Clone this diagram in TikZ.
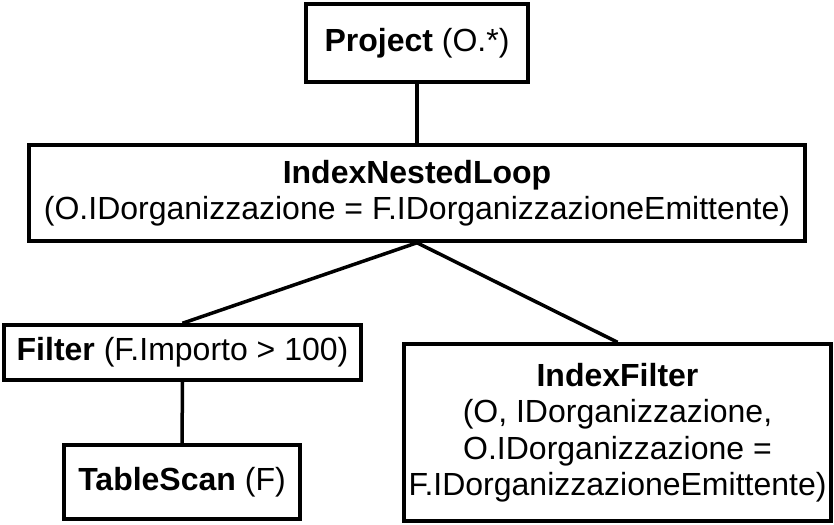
\documentclass[tikz,border=0pt]{standalone}
\usepackage{fontspec}
\setmainfont{Liberation Sans}
\usetikzlibrary{positioning}

\begin{document}
\begin{tikzpicture}[x=1pt, y=-1pt,
    op/.style={draw, line width=3.5pt, align=center, inner sep=0pt,
        font=\fontsize{32}{36.5}\selectfont},
    edge/.style={line width=3.5pt}]
    \useasboundingbox (0,0) rectangle (834,524);
    \node[op, minimum width=222pt, minimum height=78pt] (project) at (417,43) {\textbf{Project} (O.*)};
    \node[op, minimum width=776pt, minimum height=96pt] (inl) at (417,193) {\textbf{IndexNestedLoop}\\(O.IDorganizzazione = F.IDorganizzazioneEmittente)};
    \node[op, minimum width=357pt, minimum height=55pt] (filter) at (182.5,352.5) {\textbf{Filter} (F.Importo > 100)};
    \node[op, minimum width=236pt, minimum height=74pt] (scan) at (182,482) {\textbf{TableScan} (F)};
    \node[op, minimum width=427pt, minimum height=177pt] (ifilter) at (617.5,432.5) {\textbf{IndexFilter}\\(O, IDorganizzazione,\\O.IDorganizzazione =\\F.IDorganizzazioneEmittente)};
    \draw[edge] (project.south) -- (inl.north);
    \draw[edge] (inl.south) -- (filter.north);
    \draw[edge] (inl.south) -- (ifilter.north);
    \draw[edge] (filter.south) -- (scan.north);
\end{tikzpicture}
\end{document}
